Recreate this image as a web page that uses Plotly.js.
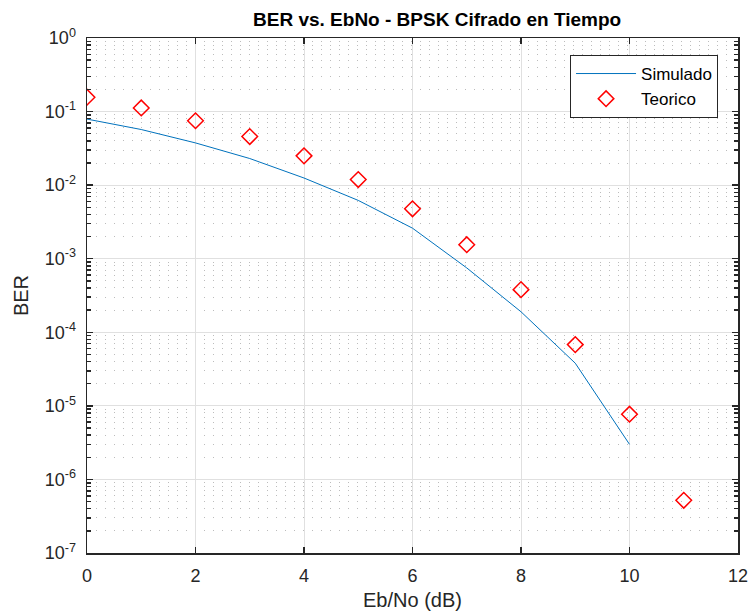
<!DOCTYPE html>
<html>
<head>
<meta charset="utf-8">
<script src="https://cdn.plot.ly/plotly-3.0.1.min.js"></script>
<style>html,body{margin:0;padding:0;background:#fff;}#chart{width:751px;height:616px;}</style>
</head>
<body>
<div id="chart"></div>
<script>
const ebno = [0, 1, 2, 3, 4, 5, 6, 7, 8, 9, 10, 11];
const simX = [0, 1, 2, 3, 4, 5, 6, 7, 8, 9, 10];
const berSimulado = [0.079, 0.057, 0.0375, 0.023, 0.0125, 0.0062, 0.0026, 0.00075, 0.00019, 3.8e-5, 3.0e-6];
const berTeorico = [0.157, 0.112, 0.075, 0.0458, 0.025, 0.0119, 0.00477, 0.00155, 0.00038, 6.8e-5, 7.7e-6, 5.2e-7];
const yTickVals = [1e-7, 1e-6, 1e-5, 1e-4, 1e-3, 1e-2, 1e-1, 1];
const yTickText = ['10<sup>-7</sup>', '10<sup>-6</sup>', '10<sup>-5</sup>', '10<sup>-4</sup>', '10<sup>-3</sup>', '10<sup>-2</sup>', '10<sup>-1</sup>', '10<sup>0</sup>'];

const textColor = '#262626';
const font = {family: '"Liberation Sans", Arial, sans-serif', size: 18, color: textColor};

const traces = [
  {x: simX, y: berSimulado, type: 'scatter', mode: 'lines', name: 'Simulado',
   line: {color: '#0072BD', width: 1}},
  {x: ebno, y: berTeorico, type: 'scatter', mode: 'markers', name: 'Teorico',
   marker: {symbol: 'diamond-open', size: 12, color: '#FF0000', line: {width: 1.5, color: '#FF0000'}}}
];

const layout = {
  width: 751, height: 616,
  margin: {l: 87, r: 13, t: 38, b: 63},
  paper_bgcolor: '#fff', plot_bgcolor: '#fff',
  font: font,
  showlegend: true,
  title: {text: '<b>BER vs. EbNo - BPSK Cifrado en Tiempo</b>', font: {family: font.family, size: 19, color: '#000'},
          x: 0.582, xanchor: 'center', y: 0.968, yanchor: 'middle'},
  xaxis: {
    range: [0, 12], tickmode: 'linear', tick0: 0, dtick: 2,
    showline: true, linecolor: textColor, linewidth: 1.5, mirror: 'ticks',
    ticks: 'inside', ticklen: 6, tickwidth: 1.5, tickcolor: textColor,
    showgrid: true, gridcolor: '#e0e0e0', gridwidth: 1, zeroline: false,
    tickfont: {size: 18, color: textColor}, ticklabelstandoff: 6,
    title: {text: 'Eb/No (dB)', font: {size: 20, color: textColor}, standoff: 8}
  },
  yaxis: {
    type: 'log', range: [-7, 0], tickmode: 'array', tickvals: yTickVals, ticktext: yTickText,
    showline: true, linecolor: textColor, linewidth: 1.5, mirror: 'ticks',
    ticks: 'inside', ticklen: 6, tickwidth: 1.5, tickcolor: textColor,
    showgrid: true, gridcolor: '#e0e0e0', gridwidth: 1, zeroline: false,
    tickfont: {size: 18, color: textColor}, ticklabelstandoff: 6,
    minor: {dtick: 'D1', ticks: 'inside', ticklen: 4, tickwidth: 1.5, tickcolor: textColor, showgrid: true, gridcolor: '#bcbcbc', griddash: '1px,8px', gridwidth: 1},
    title: {text: 'BER', font: {size: 20, color: textColor}, standoff: 10}
  },
  legend: {
    x: 0.742, y: 0.967, xanchor: 'left', yanchor: 'top',
    bgcolor: '#fff', bordercolor: textColor, borderwidth: 1,
    itemwidth: 60, tracegroupgap: 0,
    font: {size: 17, color: '#000'}
  }
};

Plotly.newPlot('chart', traces, layout, {displayModeBar: false, staticPlot: true});
</script>
</body>
</html>
